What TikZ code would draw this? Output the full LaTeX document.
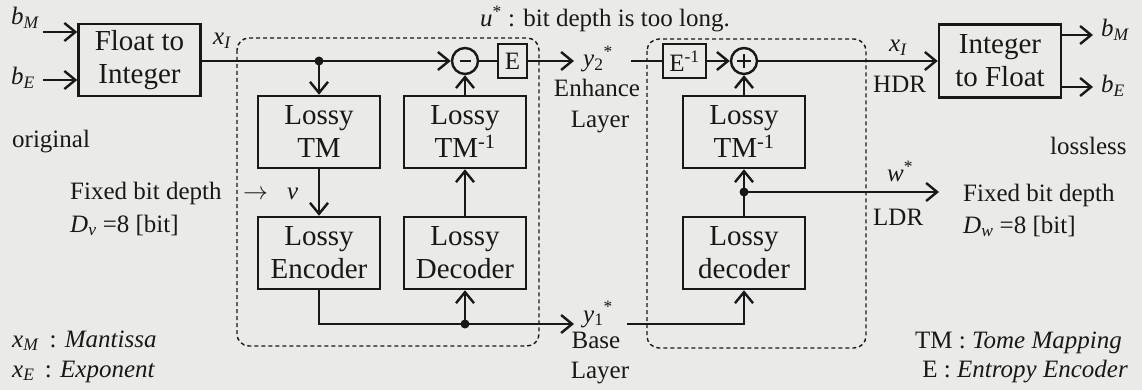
\documentclass[tikz,border=0pt]{standalone}
\usepackage{fontspec}
\setmainfont{Liberation Serif}
\usetikzlibrary{arrows.meta}
\definecolor{bg}{RGB}{234,234,233}
\definecolor{ink}{RGB}{24,24,24}
\newcommand\mysub[1]{\textsubscript{#1}}
\newcommand\mysup[1]{\textsuperscript{#1}}
\begin{document}
\begin{tikzpicture}[x=1pt,y=-1pt,
  blk/.style={draw=ink, line width=2.5pt, minimum width=122pt, minimum height=72pt,
    align=center, font=\fontsize{29}{33}\selectfont, text=ink, inner sep=0pt},
  lbl/.style={font=\fontsize{25}{29}\selectfont, text=ink, inner sep=0pt},
  ln/.style={draw=ink, line width=2.4pt},
  arr/.style={draw=ink, line width=2.4pt, -{Straight Barb[length=11pt,width=18pt,line width=2.4pt]}},
  dotn/.style={circle, fill=ink, inner sep=0pt, minimum size=9pt},
  sumc/.style={circle, draw=ink, line width=2.4pt, minimum size=26pt, inner sep=0pt},
  ebox/.style={draw=ink, line width=2.4pt, minimum height=34pt, inner sep=0pt,
    font=\fontsize{25}{29}\selectfont, text=ink},
  grp/.style={draw=ink, line width=1.4pt, dash pattern=on 4pt off 3pt, rounded corners=12pt}]
\fill[bg] (0,0) rectangle (1142,390);
\useasboundingbox (0,0) rectangle (1142,390);

% groups
\draw[grp] (237,38) rectangle (539,346);
\draw[grp] (647,39) rectangle (866,348);

% blocks
\node[blk] (fti) at (139.5,60) {Float to\\Integer};
\node[blk] (tm)  at (319,132) {Lossy\\TM};
\node[blk] (enc) at (319,253) {Lossy\\Encoder};
\node[blk] (dec) at (465,253) {Lossy\\Decoder};
\node[blk] (tmi) at (465,132) {Lossy\\TM\mysup{-1}};
\node[blk] (tmr) at (744,132) {Lossy\\TM\mysup{-1}};
\node[blk] (decr) at (744,253) {Lossy\\decoder};
\node[blk, minimum height=73pt] (itf) at (1000,61) {Integer\\to Float};

\node[sumc] (minus) at (465,61) {};
\draw[ln, line width=2pt] ([xshift=-5.5pt]minus.center) -- ([xshift=5.5pt]minus.center);
\node[sumc] (plus) at (744,61) {};
\draw[ln, line width=2pt] ([xshift=-7pt]plus.center) -- ([xshift=7pt]plus.center);
\draw[ln, line width=2pt] ([yshift=-7pt]plus.center) -- ([yshift=7pt]plus.center);

\node[ebox, minimum width=29pt] (eb) at (512.5,61) {E};
\node[ebox, minimum width=43pt] (einv) at (684.5,61) {E\mysup{-1}};

% dots and free ends
\node[dotn] (d1) at (319,61) {};
\node[dotn] (d2) at (465,324) {};
\node[dotn] (d3) at (744,192) {};
\coordinate (bMin) at (43,32);
\coordinate (bEin) at (43,80);
\coordinate (y2end) at (574,61);
\coordinate (y2start) at (631,61);
\coordinate (y1end) at (574,324);
\coordinate (y1start) at (627,324);
\coordinate (bMout) at (1093,35);
\coordinate (bEout) at (1093,87);
\coordinate (wend) at (939,192);

% connectors
\draw[arr] (bMin) -- (bMin -| fti.west);
\draw[arr] (bEin) -- (bEin -| fti.west);
\draw[arr] (fti.east |- minus) -- (minus.west);
\draw[arr] (d1.center) -- (tm.north);
\draw[arr] (tm.south) -- (enc.north);
\draw[arr] (enc.south) |- (y1end);
\draw[arr] (d2.center) -- (dec.south);
\draw[arr] (dec.north) -- (tmi.south);
\draw[arr] (tmi.north) -- (minus.south);
\draw[ln] (minus.east) -- (eb.west);
\draw[arr] (eb.east) -- (y2end);
\draw[ln] (y2start) -- (einv.west);
\draw[arr] (einv.east) -- (plus.west);
\draw[arr] (plus.east) -- (itf.west |- plus);
\draw[arr] (itf.east |- bMout) -- (bMout);
\draw[arr] (itf.east |- bEout) -- (bEout);
\draw[arr] (tmr.north) -- (plus.south);
\draw[arr] (decr.north) -- (tmr.south);
\draw[arr] (d3.center) -- (wend);
\draw[arr] (y1start) -| (decr.south);

% labels
\node[lbl, anchor=base west] (lbM) at (11,25) {\textit{b}\mysub{\textit{M}}};
\node[lbl, anchor=base west] (lbE) at (11,85) {\textit{b}\mysub{\textit{E}}};
\node[lbl, anchor=base west] (rbM) at (1101,37) {\textit{b}\mysub{\textit{M}}};
\node[lbl, anchor=base west] (rbE) at (1101,93) {\textit{b}\mysub{\textit{E}}};
\node[lbl, anchor=base west] (xl) at (213,45) {\textit{x}\mysub{\textit{I}}};
\node[lbl, anchor=base west] (xr) at (889,52) {\textit{x}\mysub{\textit{I}}};
\node[lbl, anchor=base west] (u) at (480,27) {\textit{u}\mysup{*} : bit depth is too long.};
\node[lbl, anchor=base west] (y2) at (583,67) {\textit{y}\mysub{2}\mysup{*}};
\node[lbl, anchor=base] (enh) at (597,97) {Enhance};
\node[lbl, anchor=base] (lay1) at (600,128) {Layer};
\node[lbl, anchor=base west] (y1) at (583,322) {\textit{y}\mysub{1}\mysup{*}};
\node[lbl, anchor=base] (base) at (596,348) {Base};
\node[lbl, anchor=base] (lay2) at (600,378) {Layer};
\node[lbl, anchor=base west] (hdr) at (873,93) {HDR};
\node[lbl, anchor=base west] (ldr) at (873,225) {LDR};
\node[lbl, anchor=base west] (w) at (887,182) {\textit{w}\mysup{*}};
\node[lbl, anchor=base west] (lossless) at (1050,155) {lossless};
\node[lbl, anchor=base west] (orig) at (12,148) {original};
\node[lbl, anchor=base west] (fbl) at (70,199) {Fixed bit depth};
\node[lbl, anchor=base west] (ra) at (243,199) {$\rightarrow$};
\node[lbl, anchor=base west] (v) at (287,199) {\textit{v}};
\node[lbl, anchor=base west] (dv) at (70,232) {\textit{D}\mysub{\textit{v}} =8 [bit]};
\node[lbl, anchor=base west] (fbr) at (963,201) {Fixed bit depth};
\node[lbl, anchor=base west] (dw) at (963,233) {\textit{D}\mysub{\textit{w}} =8 [bit]};
\node[lbl, anchor=base west] (xm) at (12,347) {\textit{x}\mysub{\textit{M}}\, : \textit{Mantissa}};
\node[lbl, anchor=base west] (xe) at (12,377) {\textit{x}\mysub{\textit{E}}\, : \textit{Exponent}};
\node[lbl, anchor=base east] (tmleg) at (1122,348) {TM : \textit{Tome Mapping}};
\node[lbl, anchor=base east] (eleg) at (1128,377) {E : \textit{Entropy Encoder}};
\end{tikzpicture}
\end{document}
